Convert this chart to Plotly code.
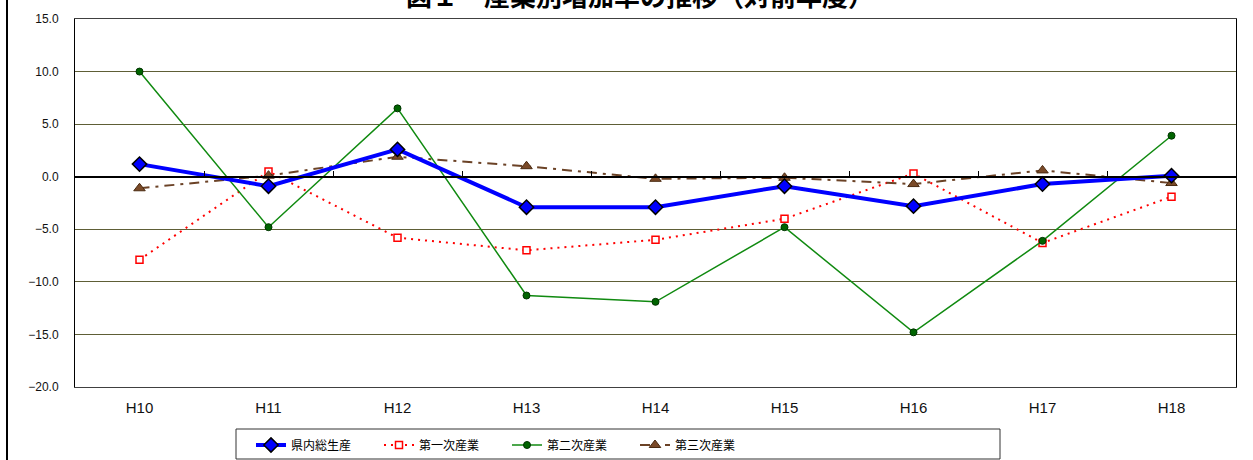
import plotly.graph_objects as go

categories = ["H10", "H11", "H12", "H13", "H14", "H15", "H16", "H17", "H18"]
gdp_total = [1.2, -0.9, 2.6, -2.9, -2.9, -0.9, -2.8, -0.7, 0.1]
primary = [-7.9, 0.5, -5.8, -7.0, -6.0, -4.0, 0.3, -6.3, -1.9]
secondary = [10.0, -4.8, 6.5, -11.3, -11.9, -4.8, -14.8, -6.1, 3.9]
tertiary = [-1.1, 0.1, 1.9, 1.0, -0.2, -0.1, -0.7, 0.6, -0.6]
y_ticks = [-20, -15, -10, -5, 0, 5, 10, 15]
title_text = "図１　産業別増加率の推移（対前年度）"

W, H = 1253, 460
ML, MR, MT, MB = 75, 17, 19, 73
PW, PH = W - ML - MR, H - MT - MB

def px_x(p):
    return (p - ML) / PW

def px_y(p):
    return (H - MB - p) / PH

FONT = "Noto Sans CJK JP, Noto Sans, sans-serif"
TICKFONT = "Liberation Sans, Arial, sans-serif"
idx = list(range(len(categories)))

fig = go.Figure()

fig.add_trace(go.Scatter(
    x=idx, y=primary, name="第一次産業", mode="lines+markers", legendrank=2,
    line=dict(color="#FF0000", width=2, dash="2px,5px"),
    marker=dict(symbol="square", size=7, color="white",
                line=dict(color="#FF0000", width=1.5)),
))
fig.add_trace(go.Scatter(
    x=idx, y=secondary, name="第二次産業", mode="lines+markers", legendrank=3,
    line=dict(color="#108A10", width=1.5),
    marker=dict(symbol="circle", size=7, color="#006400",
                line=dict(color="#003300", width=1)),
))
fig.add_trace(go.Scatter(
    x=idx, y=tertiary, name="第三次産業", mode="lines+markers", legendrank=4,
    line=dict(color="#6B4226", width=2, dash="10px,6px,3px,6px"),
    marker=dict(symbol="triangle-up", size=10, color="#7A4A28",
                line=dict(color="#4A2A10", width=1)),
))
fig.add_trace(go.Scatter(
    x=idx, y=gdp_total, name="県内総生産", mode="lines+markers", legendrank=1,
    line=dict(color="#0000FF", width=4),
    marker=dict(symbol="diamond", size=11, color="#0000FF",
                line=dict(color="black", width=1.5)),
))
# invisible helper trace so the zero-line axis with boundary ticks is drawn
fig.add_trace(go.Scatter(
    x=idx, y=gdp_total, xaxis="x2", mode="lines", line=dict(width=0),
    opacity=0, showlegend=False, hoverinfo="skip",
))

zero_pos = (0 - (-20)) / (15 - (-20))

fig.update_layout(
    width=W, height=H,
    margin=dict(l=ML, r=MR, t=MT, b=MB, autoexpand=False),
    paper_bgcolor="white", plot_bgcolor="white",
    font=dict(family=FONT, size=12, color="black"),
    showlegend=True,
    legend=dict(
        orientation="h", xref="container", yref="container",
        x=251 / W, xanchor="left",
        y=1 - 445 / H, yanchor="middle",
        font=dict(family=FONT, size=12, color="black"),
        entrywidth=83, bgcolor="rgba(0,0,0,0)", borderwidth=0,
        traceorder="normal",
    ),
    xaxis=dict(
        range=[-0.5, len(categories) - 0.5],
        tickvals=idx, ticktext=categories,
        showgrid=False, zeroline=False, automargin=False,
        showline=True, linecolor="#404040", linewidth=1, mirror=True,
        ticks="", ticklabelstandoff=7,
        tickfont=dict(family=TICKFONT, size=15, color="#111111"),
    ),
    xaxis2=dict(
        overlaying="x", anchor="free", position=zero_pos, side="top",
        range=[-0.5, len(categories) - 0.5], automargin=False,
        tickvals=[i + 0.5 for i in idx], showticklabels=False,
        ticks="outside", ticklen=5, tickcolor="black", tickwidth=1,
        showline=True, linecolor="black", linewidth=1.5,
        showgrid=False, zeroline=False,
    ),
    yaxis=dict(
        range=[-20, 15], tickvals=y_ticks, tickformat=".1f",
        showgrid=True, gridcolor="#5E5E36", gridwidth=1,
        zeroline=False, automargin=False,
        showline=True, linecolor="black", linewidth=1, mirror=True,
        ticks="", ticklabelstandoff=13,
        tickfont=dict(family=TICKFONT, size=12, color="#111111"),
    ),
    annotations=[dict(
        text="<b>" + title_text + "</b>", xref="paper", yref="paper",
        x=px_x(640), y=px_y(-5), xanchor="center", yanchor="middle",
        showarrow=False, font=dict(family=FONT, size=26, color="black"),
    )],
    shapes=[
        dict(type="rect", xref="paper", yref="paper",
             x0=px_x(236), x1=px_x(1000), y0=px_y(429), y1=px_y(459),
             line=dict(color="#333333", width=1), fillcolor="rgba(0,0,0,0)"),
        dict(type="line", xref="paper", yref="paper",
             x0=px_x(7), x1=px_x(7), y0=px_y(470), y1=px_y(-10),
             line=dict(color="black", width=2)),
    ],
)

fig.write_html("out.html", config={"displayModeBar": False},
               post_script="document.body.style.margin='0';")
